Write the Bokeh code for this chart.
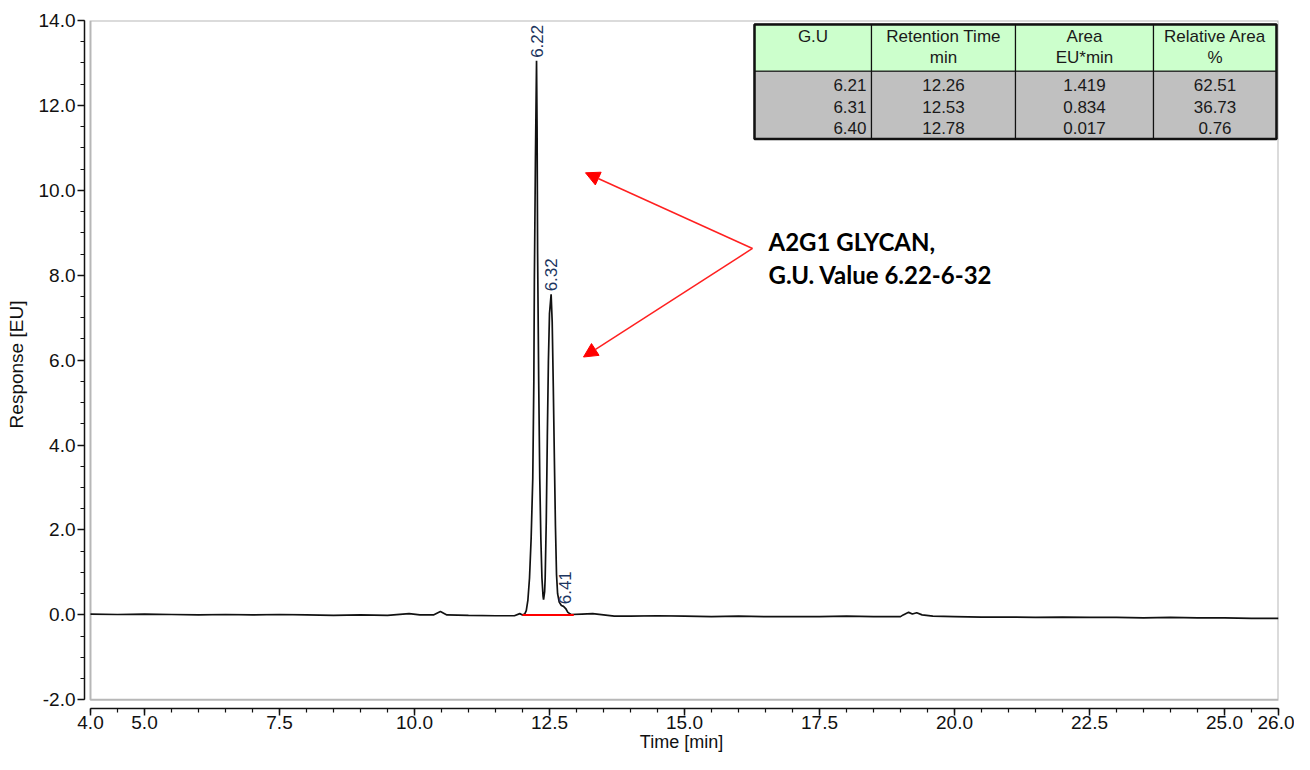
from bokeh.plotting import figure
from bokeh.models import FixedTicker, PrintfTickFormatter, BoxAnnotation, Arrow, NormalHead
from bokeh.core.properties import value
from bokeh.embed import file_html
from bokeh.resources import INLINE

# ---------------- data ----------------
time_min = [4.0, 4.5, 5.0, 5.5, 6.0, 6.5, 7.0, 7.5, 8.0, 8.5, 9.0, 9.5, 9.9, 10.1, 10.35, 10.48, 10.6,
            11.0, 11.5, 11.85, 11.95, 12.0,
            12.04, 12.07, 12.10, 12.13, 12.16, 12.19, 12.21, 12.22, 12.24, 12.26, 12.27, 12.28, 12.30,
            12.32, 12.34, 12.36, 12.38, 12.39, 12.41, 12.42, 12.44, 12.46, 12.48, 12.50, 12.53, 12.55,
            12.57, 12.59, 12.61, 12.63, 12.65, 12.68, 12.72, 12.76, 12.80, 12.84, 12.90,
            13.1, 13.3, 13.5, 13.7, 14.0, 14.5, 15.0, 15.5, 16.0, 16.5, 17.0, 17.5, 18.0, 18.5, 19.0,
            19.05, 19.15, 19.22, 19.3, 19.4, 19.6, 20.0, 20.5, 21.0, 21.5, 22.0, 22.5, 23.0, 23.5,
            24.0, 24.5, 25.0, 25.5, 26.0]
response_eu = [0.02, 0.01, 0.02, 0.01, 0.0, 0.01, 0.0, 0.01, 0.0, -0.01, 0.0, -0.01, 0.03, 0.0, 0.0, 0.08, 0.0,
               -0.01, -0.02, -0.02, 0.03, 0.0,
               0.02, 0.1, 0.35, 0.87, 1.8, 3.2, 5.5, 7.9, 10.8, 13.05, 11.5, 8.5, 5.5,
               3.2, 1.8, 0.87, 0.45, 0.36, 0.55, 0.87, 2.2, 4.2, 6.0, 7.1, 7.55, 6.9,
               5.4, 3.7, 2.1, 0.95, 0.5, 0.3, 0.22, 0.2, 0.15, 0.06, 0.01,
               0.02, 0.03, 0.0, -0.03, -0.03, -0.02, -0.03, -0.04, -0.03, -0.04, -0.04, -0.04, -0.03, -0.04, -0.04,
               0.0, 0.06, 0.02, 0.05, 0.0, -0.03, -0.04, -0.05, -0.05, -0.06, -0.05, -0.06, -0.06, -0.07,
               -0.06, -0.07, -0.07, -0.08, -0.08]

peak_labels = ["6.22", "6.32", "6.41"]
peak_times = [12.26, 12.53, 12.78]
peak_heights = [13.05, 7.55, 0.18]

baseline_times = [12.0, 12.95]
baseline_values = [0.0, 0.0]

x_ticks = [4.0, 5.0, 7.5, 10.0, 12.5, 15.0, 17.5, 20.0, 22.5, 25.0, 26.0]
y_ticks = [-2.0, 0.0, 2.0, 4.0, 6.0, 8.0, 10.0, 12.0, 14.0]

table_head_1 = ["G.U", "Retention Time", "Area", "Relative Area"]
table_head_2 = ["", "min", "EU*min", "%"]
table_gu = ["6.21", "6.31", "6.40"]
table_rt = ["12.26", "12.53", "12.78"]
table_area = ["1.419", "0.834", "0.017"]
table_rel = ["62.51", "36.73", "0.76"]

note_lines = ["A2G1 GLYCAN,", "G.U. Value 6.22-6-32"]

# ---------------- figure ----------------
X0, X1 = 3.889, 26.0
Y0, Y1 = -2.2045, 14.0
p = figure(width=1294, height=754, x_range=(X0, X1), y_range=(Y0, Y1),
           output_backend="svg", toolbar_location=None,
           min_border_left=84, min_border_right=16, min_border_top=20, min_border_bottom=43)
p.outline_line_color = None
p.xgrid.grid_line_color = None
p.ygrid.grid_line_color = None
p.background_fill_color = "white"
p.border_fill_color = "white"

FONT = "Liberation Sans"

# layout helpers: positions in reference pixels -> data units
def X(px):
    return 4.0 + (px - 90) / 54.0

def Y(py):
    return (617 - py) / 42.64

# axes
p.xaxis.ticker = FixedTicker(ticks=x_ticks, minor_ticks=[4.0 + 0.5 * i for i in range(45)])
p.yaxis.ticker = FixedTicker(ticks=y_ticks, minor_ticks=[-2.0 + 0.5 * i for i in range(33)])
p.xaxis.bounds = (4.0, 26.0)
p.yaxis.bounds = (-2.0, 14.0)
for ax in (p.xaxis, p.yaxis):
    ax.formatter = PrintfTickFormatter(format="%.1f")
    ax.axis_line_color = "#111111"
    ax.axis_line_width = 1.5
    ax.major_tick_line_color = "#111111"
    ax.minor_tick_line_color = "#111111"
    ax.major_tick_line_width = 1.5
    ax.minor_tick_line_width = 1.2
    ax.major_tick_in = 0
    ax.major_tick_out = 7
    ax.minor_tick_in = 0
    ax.minor_tick_out = 4
    ax.major_label_text_font = FONT
    ax.major_label_text_font_size = "19px"
    ax.major_label_text_color = "#111111"
    ax.axis_label_text_font = FONT
    ax.axis_label_text_font_size = "19px"
    ax.axis_label_text_font_style = "normal"
    ax.axis_label_text_color = "#111111"
p.xaxis.axis_label = "Time [min]"
p.xaxis.major_label_standoff = 0
p.xaxis.axis_label_standoff = 0
p.xaxis.axis_label_text_font_size = "18px"
p.yaxis.axis_label = "Response [EU]"
p.yaxis.major_label_standoff = 2
p.yaxis.axis_label_standoff = 9

# plot box (inset from axes)
p.add_layout(BoxAnnotation(left=4.0, right=26.0, bottom=-2.0, top=14.0,
                           fill_alpha=0, line_color="#111111", line_width=2))

# chromatogram
p.line(time_min, response_eu, line_color="#111111", line_width=1.7)
p.line(baseline_times, baseline_values, line_color="#ff0000", line_width=2)

# peak labels
p.text(x=peak_times, y=peak_heights, text=peak_labels, angle=1.5708,
       text_align="left", text_baseline="middle", y_offset=-3,
       text_font=value(FONT), text_font_size=value("17px"), text_color="#1c3560")

# ---------------- result table ----------------
col_px = [754, 871, 1015, 1153, 1276]
row_px = [24, 71, 139]
cl = [X(c) for c in col_px[:-1]]
cr = [X(c) for c in col_px[1:]]
p.quad(left=cl, right=cr, top=[Y(row_px[0])] * 4, bottom=[Y(row_px[1])] * 4,
       fill_color="#ccffcc", line_color="#111111", line_width=1.2)
p.quad(left=cl, right=cr, top=[Y(row_px[1])] * 4, bottom=[Y(row_px[2])] * 4,
       fill_color="#c0c0c0", line_color="#111111", line_width=1.2)
p.quad(left=[X(col_px[0])], right=[X(col_px[-1])], top=[Y(row_px[0])], bottom=[Y(row_px[2])],
       fill_alpha=0, line_color="#111111", line_width=2.5)

centers = [(a + b) / 2 for a, b in zip(cl, cr)]
tfont = dict(text_font=value(FONT), text_font_size=value("17px"), text_color="#1a1a1a",
             text_baseline="middle")
p.text(x=centers, y=[Y(36)] * 4, text=table_head_1, text_align="center", **tfont)
p.text(x=centers, y=[Y(57)] * 4, text=table_head_2, text_align="center", **tfont)
row_y = [Y(85), Y(107), Y(128)]
p.text(x=[X(866)] * 3, y=row_y, text=table_gu, text_align="right", **tfont)
p.text(x=[centers[1]] * 3, y=row_y, text=table_rt, text_align="center", **tfont)
p.text(x=[centers[2]] * 3, y=row_y, text=table_area, text_align="center", **tfont)
p.text(x=[centers[3]] * 3, y=row_y, text=table_rel, text_align="center", **tfont)

# ---------------- annotation ----------------
p.text(x=[X(768), X(768)], y=[Y(242), Y(275)], text=note_lines, text_align="left",
       text_baseline="alphabetic", text_font=value("Lato"), text_font_style="bold",
       text_font_size=value("24px"), text_color="#000000")
for tip in [(585, 173), (583, 358)]:
    p.add_layout(Arrow(x_start=X(752), y_start=Y(249), x_end=X(tip[0]), y_end=Y(tip[1]),
                       line_color="#ff2020", line_width=1.5,
                       end=NormalHead(size=14, fill_color="#ff0000", line_color="#ff0000")))

open("out.html", "w").write(file_html(p, INLINE))
